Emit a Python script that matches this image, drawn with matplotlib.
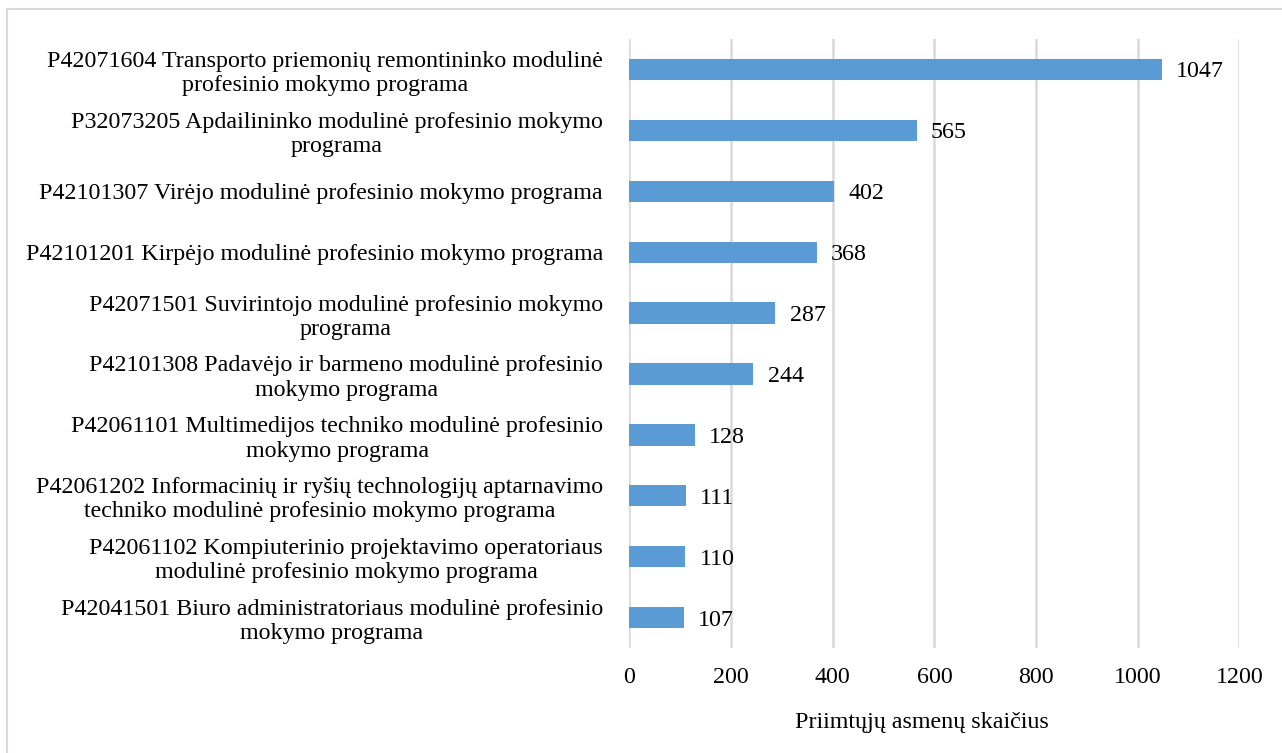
import matplotlib.pyplot as plt
from matplotlib.patches import Rectangle

plt.rcParams['font.family'] = ['Liberation Serif', 'DejaVu Serif']

# Programos (nuo didžiausio priimtųjų skaičiaus)
programos = [
    'P42071604 Transporto priemonių remontininko modulinė\nprofesinio mokymo programa',
    'P32073205 Apdailininko modulinė profesinio mokymo\nprograma',
    'P42101307 Virėjo modulinė profesinio mokymo programa',
    'P42101201 Kirpėjo modulinė profesinio mokymo programa',
    'P42071501 Suvirintojo modulinė profesinio mokymo\nprograma',
    'P42101308 Padavėjo ir barmeno modulinė profesinio\nmokymo programa',
    'P42061101 Multimedijos techniko modulinė profesinio\nmokymo programa',
    'P42061202 Informacinių ir ryšių technologijų aptarnavimo\ntechniko modulinė profesinio mokymo programa',
    'P42061102 Kompiuterinio projektavimo operatoriaus\nmodulinė profesinio mokymo programa',
    'P42041501 Biuro administratoriaus modulinė profesinio\nmokymo programa',
]
priimta = [1047, 565, 402, 368, 287, 244, 128, 111, 110, 107]
x_ticks = [0, 200, 400, 600, 800, 1000, 1200]

fig = plt.figure(figsize=(12.82, 7.53), dpi=100)
ax = fig.add_axes([0.491, 0.1394, 0.4758, 0.8088])

y = range(len(programos))
ax.barh(y, priimta, height=0.35, color='#5B9BD5', zorder=2)
for yi, v in zip(y, priimta):
    ax.text(v + 28, yi + 0.04, str(v), va='center', ha='left', fontsize=17.3, zorder=3)

ax.set_yticks(list(y))
ax.set_yticklabels(programos, fontsize=17.3, multialignment='center', linespacing=1.2)
ax.set_ylim(-0.5, len(programos) - 0.5)
ax.invert_yaxis()

ax.set_xlim(0, 1200)
ax.set_xticks(x_ticks)
ax.set_xticklabels([str(t) for t in x_ticks], fontsize=17.3)
ax.tick_params(axis='both', length=0)
ax.tick_params(axis='y', pad=19)
ax.tick_params(axis='x', pad=14)

ax.grid(axis='x', color='#D9D9D9', linewidth=1.8, zorder=0)
ax.set_axisbelow(True)
for s in ax.spines.values():
    s.set_visible(False)

ax.set_xlabel('Priimtųjų asmenų skaičius', fontsize=17.3)
ax.xaxis.set_label_coords(0.48, -0.105)

# rėmelis aplink visą diagramą
fig.patches.append(Rectangle((7 / 1282, -0.05), 1.1, (753 - 9.5) / 753 + 0.05,
                             transform=fig.transFigure, fill=False,
                             edgecolor='#D9D9D9', linewidth=1.5))

fig.savefig('out.png', dpi=100)
